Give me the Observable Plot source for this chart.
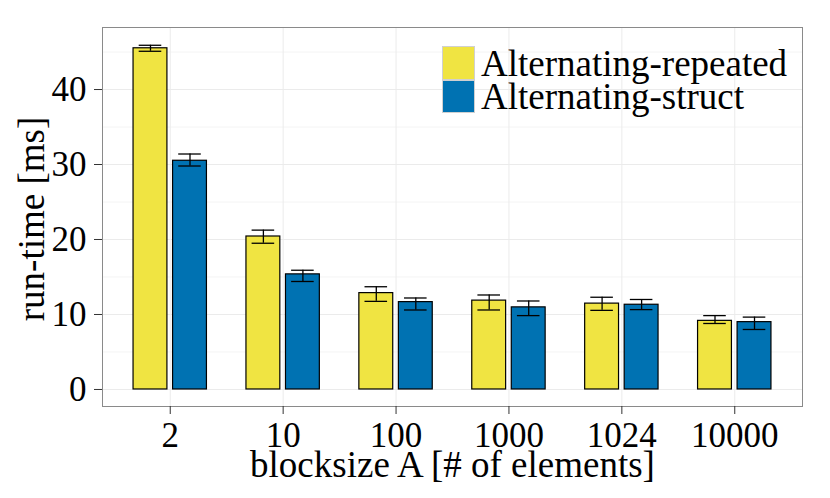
<!DOCTYPE html>
<html>
<head>
<meta charset="utf-8">
<script src="https://cdn.jsdelivr.net/npm/d3@7"></script>
<script src="https://cdn.jsdelivr.net/npm/@observablehq/plot@0.6"></script>
<style>
  body { margin: 0; background: #fff; }
  #wrap { position: relative; width: 830px; height: 498px; font-family: "Liberation Serif", serif; }
  #legend { position: absolute; left: 442px; top: 46px; }
  .row { display: flex; align-items: center; height: 33.5px; }
  .sw { width: 33px; height: 33.5px; box-sizing: border-box; border: 0.6px solid #d0d0d0; }
  .lab { font-size: 37px; line-height: 33px; margin-left: 6px; padding-top: 1px; color: #000; white-space: nowrap; }
</style>
</head>
<body>
<div id="wrap"></div>
<script>
// ---- data ----
const categories = ["2", "10", "100", "1000", "1024", "10000"];
const seriesNames = ["Alternating-repeated", "Alternating-struct"];
const seriesColors = ["#F0E442", "#0072B2"];
const repeatedMean = [45.5, 20.4, 12.85, 11.85, 11.45, 9.15];
const repeatedLow  = [45.1, 19.5, 11.75, 10.6, 10.55, 8.8];
const repeatedHigh = [45.9, 21.25, 13.7, 12.6, 12.3, 9.85];
const structMean   = [30.5, 15.35, 11.65, 10.95, 11.3, 8.98];
const structLow    = [29.8, 14.4, 10.6, 9.85, 10.65, 8.0];
const structHigh   = [31.4, 15.9, 12.2, 11.8, 12.0, 9.65];
const yTicks = [0, 10, 20, 30, 40];
const yMinorTicks = [5, 15, 25, 35, 45];
const xTitle = "blocksize A [# of elements]";
const yTitle = "run-time [ms]";

// ---- table built from the arrays ----
const means = [repeatedMean, structMean];
const lows = [repeatedLow, structLow];
const highs = [repeatedHigh, structHigh];
const rows = [];
seriesNames.forEach((s, k) => categories.forEach((c, i) => {
  rows.push({i, k, series: s, value: means[k][i], lo: lows[k][i], hi: highs[k][i]});
}));

const DODGE = 0.7, BAR = 0.3, CAP = 0.2;
const center = d => d.i + (d.k - (seriesNames.length - 1) / 2) * DODGE / seriesNames.length;
const idx = d3.range(categories.length);
const FS = 35;   // tick labels
const TFS = 37;  // axis titles

const chart = Plot.plot({
  width: 830,
  height: 498,
  marginLeft: 102,
  marginRight: 28,
  marginTop: 27,
  marginBottom: 92,
  x: {domain: [-0.6, categories.length - 0.4]},
  y: {domain: [-2.27, 48.27]},
  color: {domain: seriesNames, range: seriesColors},
  style: {fontFamily: "Liberation Serif", fontSize: FS + "px", background: "white", color: "black"},
  marks: [
    Plot.ruleY(yMinorTicks, {stroke: "#f4f4f4", strokeWidth: 1}),
    Plot.ruleY(yTicks, {stroke: "#ebebeb", strokeWidth: 1}),
    Plot.ruleX(idx, {stroke: "#ebebeb", strokeWidth: 1}),
    Plot.rectY(rows, {
      x1: d => center(d) - BAR / 2,
      x2: d => center(d) + BAR / 2,
      y1: 0,
      y2: "value",
      fill: "series",
      stroke: "black",
      strokeWidth: 1.2
    }),
    Plot.ruleX(rows, {x: center, y1: "lo", y2: "hi", stroke: "black", strokeWidth: 1.3}),
    Plot.ruleY(rows, {y: "lo", x1: d => center(d) - CAP / 2, x2: d => center(d) + CAP / 2, stroke: "black", strokeWidth: 1.3}),
    Plot.ruleY(rows, {y: "hi", x1: d => center(d) - CAP / 2, x2: d => center(d) + CAP / 2, stroke: "black", strokeWidth: 1.3}),
    Plot.frame({stroke: "#8a8a8a", strokeWidth: 1}),
    Plot.axisY(yTicks, {tickSize: 8, tickPadding: 8, fontSize: FS, label: null, stroke: "#333"}),
    Plot.axisX(idx, {tickSize: 8, tickPadding: 8, fontSize: FS, label: null, stroke: "#333", tickFormat: i => categories[i]}),
    Plot.text([xTitle], {frameAnchor: "bottom", textAnchor: "middle", lineAnchor: "middle", dy: 59, fontSize: TFS}),
    Plot.text([yTitle], {frameAnchor: "left", textAnchor: "middle", lineAnchor: "middle", rotate: -90, dx: -70, dy: 2, fontSize: TFS})
  ]
});

const wrap = document.getElementById("wrap");
wrap.appendChild(chart);

// legend (inside panel, top right)
const legend = document.createElement("div");
legend.id = "legend";
seriesNames.forEach((s, k) => {
  const row = document.createElement("div");
  row.className = "row";
  const sw = document.createElement("div");
  sw.className = "sw";
  sw.style.background = seriesColors[k];
  const lab = document.createElement("div");
  lab.className = "lab";
  lab.textContent = s;
  row.appendChild(sw);
  row.appendChild(lab);
  legend.appendChild(row);
});
wrap.appendChild(legend);
</script>
</body>
</html>
